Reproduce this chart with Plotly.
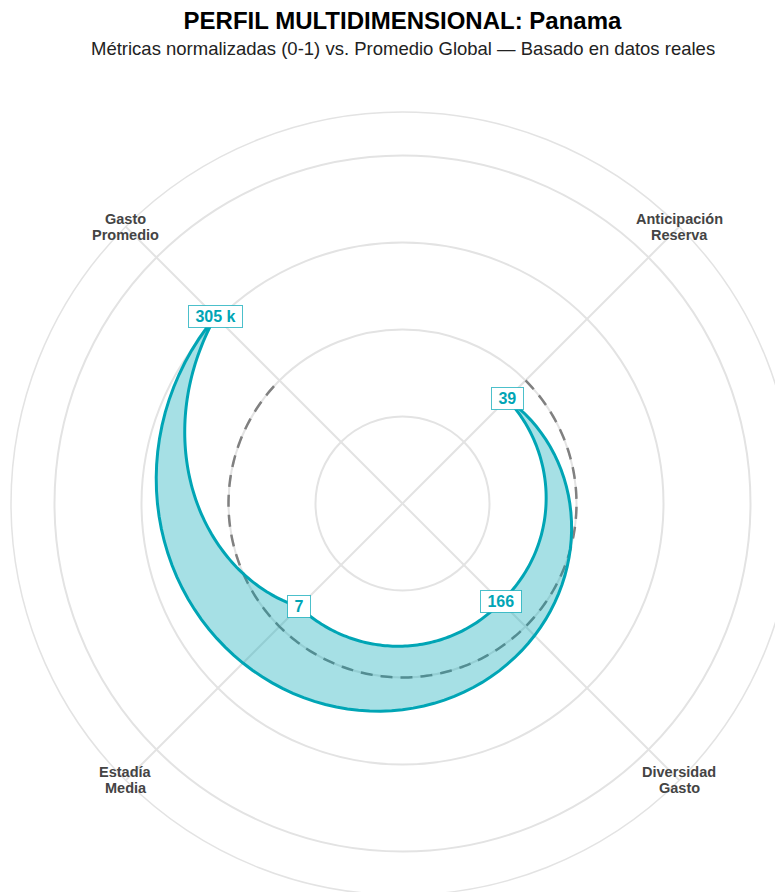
import numpy as np
import plotly.graph_objects as go

# ---------------- data ----------------
cat_line1 = ["Anticipación", "Diversidad", "Estadía", "Gasto"]
cat_line2 = ["Reserva", "Gasto", "Media", "Promedio"]
angles_deg = [45, -45, -135, -225]          # angular position of each axis (traversal order)
panama_norm = [0.425, 0.40, 0.42, 0.76]     # normalised values (0-1)
global_norm = [0.5, 0.5, 0.5, 0.5]          # global average (normalised)
raw_labels = ["39", "166", "7", "305 k"]    # real (un-normalised) values
radial_ticks = [0.25, 0.5, 0.75, 1.0]
R_MAX = 1.125

TEAL = "#00A5B5"
FILL = "rgba(0,165,181,0.35)"
GRID = "#e3e3e3"
FONT = "Liberation Sans, Arial, sans-serif"

# ---------------- layout geometry ----------------
M_L, M_R, M_T, M_B = 3, 3, 104, 0
PLOT = 783
W, H = M_L + PLOT + M_R, M_T + PLOT + M_B


def polar_line(angles, values, closed=True, steps=90):
    """Line joining consecutive points, drawn along the polar grid
    (angle and radius vary together between two consecutive points)."""
    th = list(angles) + ([angles[0]] if closed else [])
    rv = list(values) + ([values[0]] if closed else [])
    out_t, out_r = [], []
    for i in range(len(th) - 1):
        f = np.linspace(0.0, 1.0, steps, endpoint=False)
        out_t.extend(th[i] + (th[i + 1] - th[i]) * f)
        out_r.extend(rv[i] + (rv[i + 1] - rv[i]) * f)
    out_t.append(th[-1])
    out_r.append(rv[-1])
    return out_t, out_r


def to_paper(ang, val):
    a = np.deg2rad(ang)
    return (0.5 + 0.5 * (val / R_MAX) * np.cos(a),
            0.5 + 0.5 * (val / R_MAX) * np.sin(a))


fig = go.Figure()

# global average (dashed)
gt, gr = polar_line(angles_deg, global_norm, closed=False)
fig.add_trace(go.Scatterpolar(
    r=gr, theta=gt, mode="lines",
    line=dict(color="#808080", width=2.5, dash="12px,8px"),
    hoverinfo="skip", showlegend=False, name="Promedio Global",
))

# Panama profile
pt, pr = polar_line(angles_deg, panama_norm, closed=True)
fig.add_trace(go.Scatterpolar(
    r=pr, theta=pt, mode="lines", fill="toself", fillcolor=FILL,
    line=dict(color=TEAL, width=3),
    hoverinfo="skip", showlegend=False, name="Panama",
))

annotations = []

# axis labels at the outer edge (two lines each)
for ang, l1, l2 in zip(angles_deg, cat_line1, cat_line2):
    x, y = to_paper(ang, R_MAX)
    for txt, shift in ((l1, 8), (l2, -8)):
        annotations.append(dict(
            x=x, y=y, xref="paper", yref="paper", showarrow=False,
            text="<b>%s</b>" % txt, yshift=shift,
            font=dict(family=FONT, size=14.5, color="#444444"),
            xanchor="center", yanchor="middle",
        ))

# value labels placed at the data points
for ang, val, lbl in zip(angles_deg, panama_norm, raw_labels):
    x, y = to_paper(ang, val)
    annotations.append(dict(
        x=x, y=y, xref="paper", yref="paper", showarrow=False,
        text="<b> %s </b>" % lbl,
        font=dict(family=FONT, size=16, color=TEAL),
        bgcolor="white", bordercolor="rgba(0,165,181,0.7)", borderwidth=1, borderpad=2,
        xanchor="center", yanchor="middle",
    ))

annotations.append(dict(
    x=0.5, y=1 + (M_T - 41) / PLOT, xref="paper", yref="paper",
    showarrow=False, xanchor="center", yanchor="middle",
    text="Métricas normalizadas (0-1) vs. Promedio Global — Basado en datos reales",
    font=dict(family=FONT, size=18.5, color="#222222"),
))

fig.update_layout(
    width=W, height=H,
    margin=dict(l=M_L, r=M_R, t=M_T, b=M_B),
    paper_bgcolor="white", plot_bgcolor="white",
    title=dict(
        text="<b>PERFIL MULTIDIMENSIONAL: Panama</b>",
        x=0.5, xref="paper", xanchor="center",
        y=1 - 12.5 / H, yref="container", yanchor="middle",
        font=dict(family=FONT, size=24, color="black"),
    ),
    annotations=annotations,
    showlegend=False,
    polar=dict(
        domain=dict(x=[0, 1], y=[0, 1]),
        bgcolor="white",
        radialaxis=dict(
            range=[0, R_MAX], tickvals=radial_ticks, showticklabels=False,
            ticks="", showline=False, gridcolor=GRID, gridwidth=1.5,
        ),
        angularaxis=dict(
            thetaunit="degrees", rotation=0, direction="counterclockwise",
            tickvals=[45, 135, 225, 315], showticklabels=False, ticks="",
            gridcolor=GRID, gridwidth=1.5, showline=True, linecolor=GRID, linewidth=1.5,
        ),
    ),
)

fig.write_html("out.html")
